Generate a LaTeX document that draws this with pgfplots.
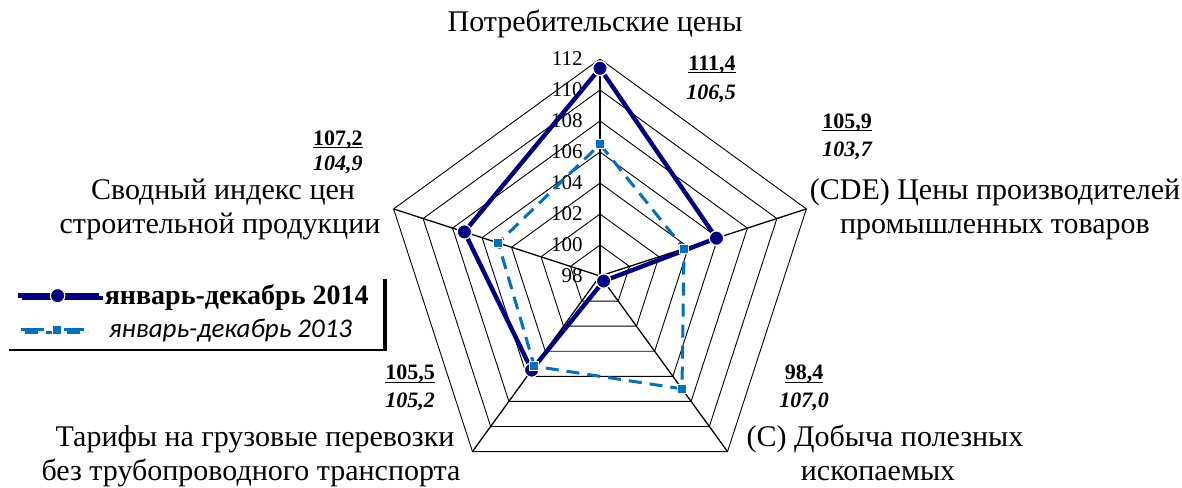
\documentclass[border=0pt]{standalone}
\usepackage{fontspec}
\setmainfont{Liberation Serif}
\newfontfamily\carlito{Carlito}
\usepackage{pgfplots}
\pgfplotsset{compat=1.18}
\usepgfplotslibrary{polar}
\usetikzlibrary{shadows}
\definecolor{navy14}{RGB}{0,0,128}
\definecolor{blue13}{RGB}{0,112,192}

\newcommand{\catfont}{\fontsize{15}{18}\selectfont}
\newcommand{\valfont}{\fontsize{11}{13}\selectfont\bfseries}
% tight underline, close to the digits
\newcommand{\ul}[1]{\setbox0=\hbox{#1}\rlap{\rule[-1.4pt]{\wd0}{0.6pt}}\box0}

\pgfplotsset{
  leg14/.style={legend image code/.code={\draw[##1, mark repeat=2, mark phase=2]
    plot coordinates {(0pt,0pt)(20pt,0pt)(40.5pt,0pt)};}},
  leg13/.style={legend image code/.code={\draw[##1, mark repeat=2, mark phase=2,
    dash pattern=on 11.5pt off 10pt]
    plot coordinates {(1.5pt,0pt)(19.5pt,0pt)(33pt,0pt)};}},
}

\begin{document}
\begin{tikzpicture}
\begin{polaraxis}[
  scale only axis, width=217pt, height=217pt,
  hide axis, clip=false,
  xmin=0, xmax=360,
  ymin=98, ymax=112,
  y coord trafo/.code={\pgfmathparse{#1-98}},
  y coord inv trafo/.code={\pgfmathparse{#1+98}},
  legend cell align=left,
  legend style={at={(axis description cs:0,0.332)}, anchor=south east,
    fill=white, draw=none,
    drop shadow={shadow xshift=2pt, shadow yshift=-1.2pt, fill=black, opacity=1},
    inner xsep=5pt, inner ysep=2pt, row sep=2pt,
    nodes={inner sep=2pt}},
]
\coordinate (C) at (axis cs:0,98);
% pentagon rings
\pgfplotsinvokeforeach{100,102,...,112}{
  \addplot[black, line width=0.45pt, forget plot]
    coordinates {(90,#1)(18,#1)(306,#1)(234,#1)(162,#1)(90,#1)};
}
% spokes
\pgfplotsinvokeforeach{90,18,306,234,162}{
  \addplot[black, line width=0.65pt, forget plot] coordinates {(#1,98)(#1,112)};
}
% radial tick labels
\pgfplotsinvokeforeach{98,100,...,112}{
  \node[anchor=east, inner sep=0pt, xshift=-8.5pt, font=\fontsize{10.5}{12}\selectfont]
    at (axis cs:90,#1) {#1};
}
% январь-декабрь 2014
\addplot[navy14, line width=2.2pt, line join=round,
  mark=*, mark size=3.6pt,
  mark options={fill=navy14, draw=white, line width=0.6pt}, leg14]
  coordinates {(90,111.4)(18,105.9)(306,98.4)(234,105.5)(162,107.2)(90,111.4)};
% январь-декабрь 2013
\addplot[blue13, line width=1.5pt, dash pattern=on 6.5pt off 4pt,
  mark=square*, mark size=2.2pt,
  mark options={solid, fill=blue13, draw=white, line width=0.5pt}, leg13]
  coordinates {(90,106.5)(18,103.7)(306,107.0)(234,105.2)(162,104.9)(90,106.5)};
\legend{{\fontsize{14}{16}\selectfont\bfseries январь-декабрь 2014},
        {\fontsize{13.5}{16}\selectfont\carlito\itshape\hspace{2pt}январь-декабрь 2013}}
\end{polaraxis}

% category labels
\node[anchor=base, font=\catfont] at ([shift={(-2.5pt,122pt)}]C) {Потребительские цены};
\node[anchor=base, font=\catfont] at ([shift={(197.5pt,38pt)}]C) {(CDE) Цены производителей};
\node[anchor=base, font=\catfont] at ([shift={(197.5pt,21pt)}]C) {промышленных товаров};
\node[anchor=base, font=\catfont] at ([shift={(-188.5pt,38pt)}]C) {Сводный индекс цен};
\node[anchor=base, font=\catfont] at ([shift={(-190pt,21pt)}]C) {строительной продукции};
\node[anchor=base, font=\catfont] at ([shift={(-172.5pt,-85.5pt)}]C) {Тарифы на грузовые перевозки};
\node[anchor=base, font=\catfont] at ([shift={(-174.5pt,-102pt)}]C) {без трубопроводного транспорта};
\node[anchor=base, font=\catfont] at ([shift={(142.5pt,-85.5pt)}]C) {(С) Добыча полезных};
\node[anchor=base, font=\catfont] at ([shift={(139pt,-102pt)}]C) {ископаемых};

% value labels: 2014 underlined, 2013 italic
\node[anchor=base, font=\valfont] at ([shift={(56pt,102.75pt)}]C) {\ul{111,4}};
\node[anchor=base, font=\valfont\itshape] at ([shift={(55.5pt,88.25pt)}]C) {106,5};
\node[anchor=base, font=\valfont] at ([shift={(123.5pt,73.75pt)}]C) {\ul{105,9}};
\node[anchor=base, font=\valfont\itshape] at ([shift={(123.5pt,59.75pt)}]C) {103,7};
\node[anchor=base, font=\valfont] at ([shift={(102pt,-52pt)}]C) {\ul{98,4}};
\node[anchor=base, font=\valfont\itshape] at ([shift={(102pt,-66pt)}]C) {107,0};
\node[anchor=base, font=\valfont] at ([shift={(-95pt,-52pt)}]C) {\ul{105,5}};
\node[anchor=base, font=\valfont\itshape] at ([shift={(-95pt,-66pt)}]C) {105,2};
\node[anchor=base, font=\valfont] at ([shift={(-131pt,65.25pt)}]C) {\ul{107,2}};
\node[anchor=base, font=\valfont\itshape] at ([shift={(-131pt,52.75pt)}]C) {104,9};

\pgfresetboundingbox
\path (C) ++(-300pt,-105.5pt) rectangle ++(591pt,243.5pt);
\end{tikzpicture}
\end{document}
